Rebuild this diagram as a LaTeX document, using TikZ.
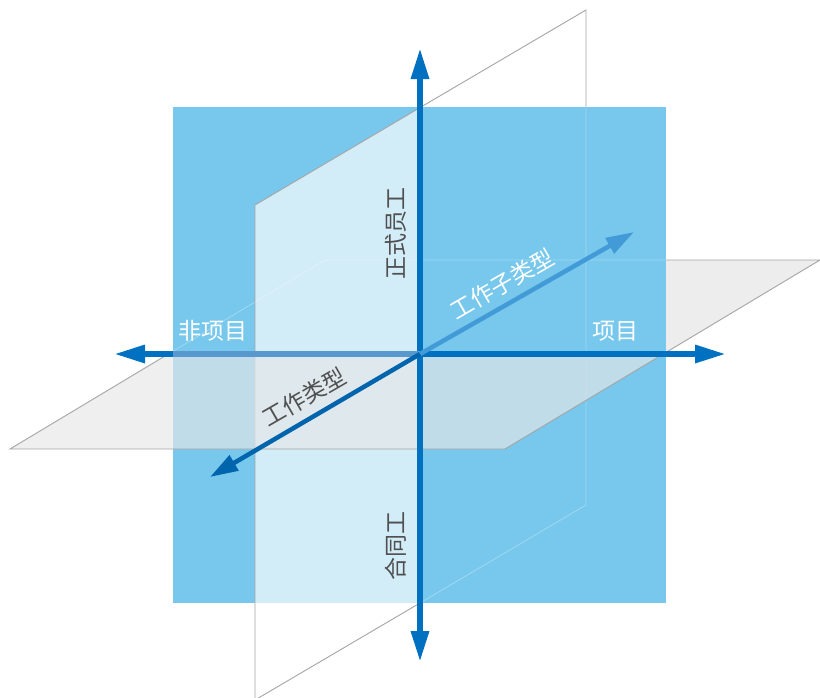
\documentclass[tikz,border=0pt]{standalone}
\usepackage{fontspec}
\setmainfont{Noto Sans CJK SC}
\usetikzlibrary{arrows.meta}
\definecolor{planeblue}{RGB}{119,200,236}
\definecolor{axisblue}{RGB}{0,112,192}
\definecolor{axisback}{RGB}{66,155,215}
\definecolor{axisfade}{RGB}{88,152,206}
\definecolor{edgegray}{RGB}{165,165,165}
\definecolor{floorgray}{RGB}{231,231,231}
\definecolor{labelgray}{RGB}{80,80,80}
\tikzset{
  bigtip/.tip={Triangle[length=31pt,width=17pt]},
  edge/.style={draw=edgegray, line width=0.9pt},
  hidden/.style={draw=white, opacity=0.3, line width=0.8pt},
  axis/.style={line width=6pt, -{bigtip}},
  depthaxis/.style={line width=4.5pt, -{Triangle[length=28pt,width=17pt]}},
  axislabel/.style={font=\fontsize{23}{27}\selectfont, inner sep=0pt}
}
\begin{document}
\begin{tikzpicture}[x=1pt,y=-1pt]
  \clip (0,0) rectangle (820,697);

  % frontal square
  \coordinate (S1) at (173,107);
  \coordinate (S2) at (666,603);
  % vertical plane (depth direction)
  \coordinate (V1) at (255,205);
  \coordinate (V2) at (586,10);
  \coordinate (V3) at (586,505);
  \coordinate (V4) at (255,700);
  \coordinate (Vt) at (420.5,107.3);
  \coordinate (Vb) at (420.5,602.7);
  % horizontal plane
  \coordinate (H1) at (10,449);
  \coordinate (H2) at (505,449);
  \coordinate (H3) at (820,260);
  \coordinate (H4) at (325,260);
  \coordinate (Hl) at (167.5,354.5);
  \coordinate (Hr) at (662.5,354.5);
  % axes
  \coordinate (O)     at (420,354);
  \coordinate (up)    at (420,48);
  \coordinate (down)  at (420,662);
  \coordinate (left)  at (114,354);
  \coordinate (right) at (726,354);
  \coordinate (leftin) at (173,354);
  \coordinate (back)  at (634,232);
  \coordinate (front) at (210,477);

  % back halves
  \fill[gray!14] (Hl) -- (H4) -- (H3) -- (Hr) -- cycle;
  \draw[edge] (Hl) -- (H4) -- (H3) -- (Hr);
  \fill[white] (Vt) -- (V2) -- (V3) -- (Vb) -- cycle;
  \draw[edge] (Vt) -- (V2) -- (V3) -- (Vb);

  \fill[planeblue] (S1) rectangle (S2);
  \begin{scope}
    \clip (S1) rectangle (S2);
    \draw[hidden] (Hl) -- (H4) -- (H3) -- (Hr);
    \draw[hidden] (Vt) -- (V2) -- (V3) -- (Vb);
  \end{scope}

  % front halves
  \fill[white, opacity=0.67] (V1) -- (Vt) -- (Vb) -- (V4) -- cycle;
  \draw[edge] (Vt) -- (V1) -- (V4) -- (Vb);
  \fill[floorgray, opacity=0.65] (H1) -- (H2) -- (Hr) -- (Hl) -- cycle;
  \draw[edge] (Hl) -- (H1) -- (H2) -- (Hr);

  % axes
  \draw[axis, axisblue] (O) -- (up);
  \draw[axis, axisblue] (O) -- (down);
  \draw[axis, axisblue] (O) -- (right);
  \draw[axis, axisblue] (O) -- (left);
  \draw[line width=6pt, axisfade] (O) -- (leftin);
  \draw[depthaxis, axisback] (O) -- (back);
  \draw[depthaxis, axisblue!90!black] (O) -- (front);

  % labels
  \node[axislabel, labelgray, rotate=90] (fulltime) at (396,233) {正式员工};
  \node[axislabel, labelgray, rotate=90] (contract) at (396,546) {合同工};
  \node[axislabel, white] (nonproject) at (213,331) {非项目};
  \node[axislabel, white] (project) at (615,331) {项目};
  \node[axislabel, white, rotate=30] (subtype) at (502,284) {工作子类型};
  \node[axislabel, labelgray, rotate=30] (worktype) at (304,397) {工作类型};
\end{tikzpicture}
\end{document}
